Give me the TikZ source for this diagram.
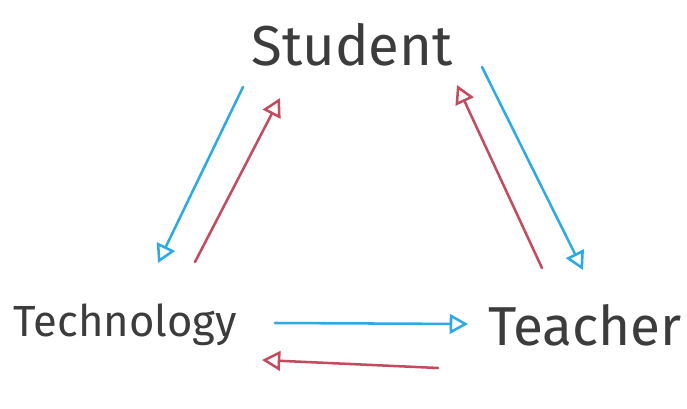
\documentclass[tikz,border=0pt]{standalone}
\usepackage{fontspec}
\setmainfont{Fira Sans}
\usetikzlibrary{arrows.meta}

\definecolor{flowblue}{RGB}{45,170,230}
\definecolor{flowred}{RGB}{195,75,95}
\definecolor{inkgray}{RGB}{60,60,60}

\begin{document}
\begin{tikzpicture}[x=0.025cm, y=-0.025cm, line cap=round,
    actor/.style={font=\fontsize{40}{44}\selectfont, text=inkgray, inner sep=0pt},
    toflow/.style={flowblue, line width=1.8pt, -{Triangle[open, length=13pt, width=14pt]}},
    backflow/.style={flowred, line width=1.8pt, -{Triangle[open, length=13pt, width=14pt]}}]
  \useasboundingbox (0,0) rectangle (687,409);

  % ---------------- the three actors ----------------
  \node[actor] (student) at (352,45) {Student};
  \node[actor, font=\fontsize{31}{36}\selectfont] (technology) at (125,325) {Technology};
  \node[actor, font=\fontsize{39}{44}\selectfont] (teacher) at (585,325) {Teacher};

  % ---------------- arrow ends ----------------
  \coordinate (stu-tec-a) at (243,87);
  \coordinate (stu-tec-b) at (158,263);
  \coordinate (tec-stu-a) at (195,262);
  \coordinate (tec-stu-b) at (280,98);
  \coordinate (stu-tea-a) at (482,67);
  \coordinate (stu-tea-b) at (583,270);
  \coordinate (tea-stu-a) at (542,268);
  \coordinate (tea-stu-b) at (457,85);
  \coordinate (tec-tea-a) at (275,323);
  \coordinate (tec-tea-b) at (468,324);
  \coordinate (tea-tec-a) at (438,368);
  \coordinate (tea-tec-b) at (262,360);

  % ---------------- flows ----------------
  \draw[toflow]   (stu-tec-a) -- (stu-tec-b);
  \draw[backflow] (tec-stu-a) -- (tec-stu-b);
  \draw[toflow]   (stu-tea-a) -- (stu-tea-b);
  \draw[backflow] (tea-stu-a) -- (tea-stu-b);
  \draw[toflow]   (tec-tea-a) -- (tec-tea-b);
  \draw[backflow] (tea-tec-a) -- (tea-tec-b);
\end{tikzpicture}
\end{document}
